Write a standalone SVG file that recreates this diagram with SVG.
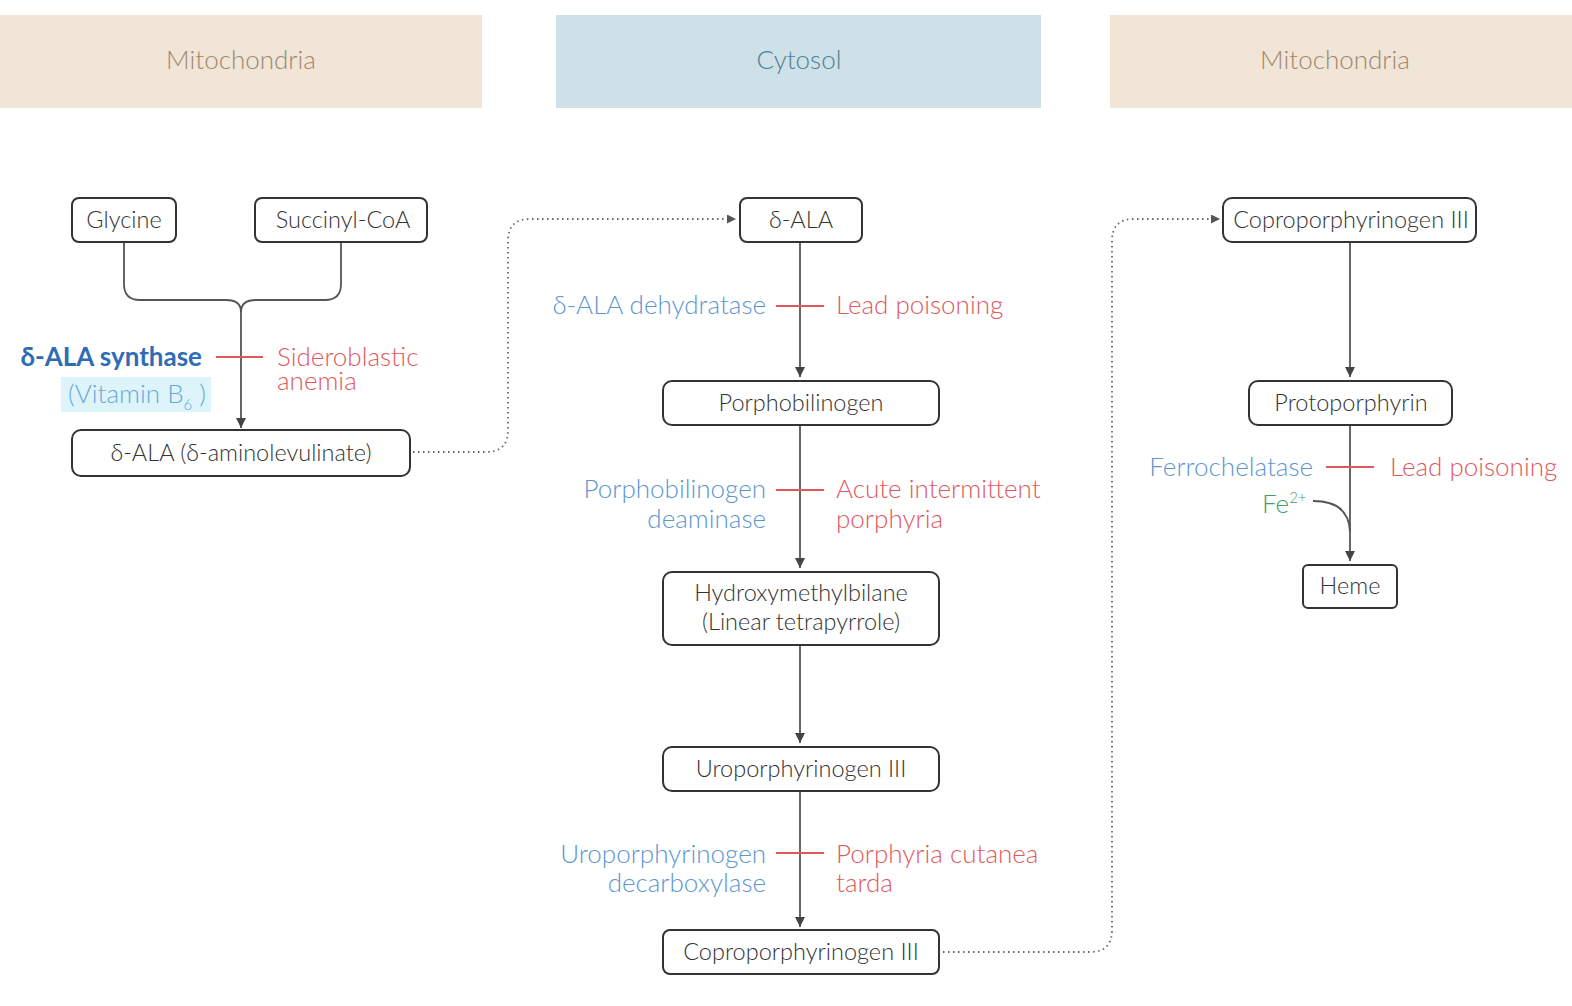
<svg xmlns="http://www.w3.org/2000/svg" width="1572" height="1006" viewBox="0 0 1572 1006">
<defs>
<marker id="arr" viewBox="0 0 10 10" refX="10" refY="5" markerWidth="10" markerHeight="11" markerUnits="userSpaceOnUse" orient="auto">
<path d="M0,0 L10,5 L0,10 z" fill="#444"/>
</marker>
<marker id="arrs" viewBox="0 0 10 10" refX="10" refY="5" markerWidth="11" markerHeight="9" markerUnits="userSpaceOnUse" orient="auto">
<path d="M0,0 L10,5 L0,10 z" fill="#555"/>
</marker>
</defs>
<style>
text{font-family:Lato,"Open Sans","Liberation Sans",sans-serif;font-size:26px;font-weight:300}
.hdr{font-size:26px;text-anchor:middle}
.node rect{fill:#fff;stroke:#333;stroke-width:2}
.node text{fill:#333;text-anchor:middle;font-size:23.5px}
.edge{fill:none;stroke:#555;stroke-width:1.8}
.dot{fill:none;stroke:#666;stroke-width:1.8;stroke-dasharray:1.5 3.5}
.bar{stroke:#e0585c;stroke-width:2}
.enz{fill:#5d96cf;text-anchor:end}
.dis{fill:#e0585c}
.bold{font-weight:bold;fill:#2e6db4;text-anchor:end}
</style>
<rect width="1572" height="1006" fill="#fff"/>
<g id="headers">
<rect x="0" y="15" width="482" height="93" fill="#f1e5d7"/>
<text class="hdr" x="241" y="69" fill="#9e876b">Mitochondria</text>
<rect x="556" y="15" width="485" height="93" fill="#cfe1e8"/>
<text class="hdr" x="799" y="69" fill="#4d7f93">Cytosol</text>
<rect x="1110" y="15" width="462" height="93" fill="#f1e5d7"/>
<text class="hdr" x="1335" y="69" fill="#9e876b">Mitochondria</text>
</g>
<g id="connectors">
<path class="edge" d="M124,242 V284 Q124,300 140,300 H226 Q241,300 241,312"/>
<path class="edge" d="M341,242 V284 Q341,300 325,300 H256 Q241,300 241,312"/>
<path class="edge" d="M241,312 V428" marker-end="url(#arr)"/>
<path class="dot" d="M413,452 H486 Q508,452 508,430 V241 Q508,219 530,219 H736" marker-end="url(#arrs)"/>
<path class="edge" d="M800,242 V377" marker-end="url(#arr)"/>
<path class="edge" d="M800,425 V568" marker-end="url(#arr)"/>
<path class="edge" d="M800,645 V743" marker-end="url(#arr)"/>
<path class="edge" d="M800,791 V927" marker-end="url(#arr)"/>
<path class="dot" d="M943,952 H1090 Q1112,952 1112,930 V241 Q1112,219 1134,219 H1220" marker-end="url(#arrs)"/>
<path class="edge" d="M1350,242 V377" marker-end="url(#arr)"/>
<path class="edge" d="M1350,425 V561" marker-end="url(#arr)"/>
<path class="edge" d="M1313,501 Q1349,501 1350,532"/>
<line class="bar" x1="216" y1="357" x2="263" y2="357"/>
<line class="bar" x1="776" y1="306" x2="824" y2="306"/>
<line class="bar" x1="776" y1="490" x2="824" y2="490"/>
<line class="bar" x1="776" y1="853" x2="824" y2="853"/>
<line class="bar" x1="1326" y1="467" x2="1374" y2="467"/>
</g>
<g id="glycine" class="node"><rect x="72" y="198" width="104" height="44" rx="7"/><text x="124" y="228">Glycine</text></g>
<g id="succinyl-coa" class="node"><rect x="255" y="198" width="172" height="44" rx="7"/><text x="343" y="228">Succinyl-CoA</text></g>
<g id="ala-full" class="node"><rect x="72" y="430" width="338" height="46" rx="9"/><text x="241" y="461">δ-ALA (δ-aminolevulinate)</text></g>
<g id="ala-mid" class="node"><rect x="740" y="198" width="122" height="44" rx="7"/><text x="801" y="228">δ-ALA</text></g>
<g id="porphobilinogen" class="node"><rect x="663" y="381" width="276" height="44" rx="9"/><text x="801" y="411">Porphobilinogen</text></g>
<g id="hydroxymethylbilane" class="node"><rect x="663" y="572" width="276" height="73" rx="9"/><text x="801" y="601">Hydroxymethylbilane</text><text x="801" y="630">(Linear tetrapyrrole)</text></g>
<g id="uroporphyrinogen" class="node"><rect x="663" y="747" width="276" height="44" rx="9"/><text x="801" y="777">Uroporphyrinogen III</text></g>
<g id="copro-mid" class="node"><rect x="663" y="930" width="276" height="44" rx="7"/><text x="801" y="960">Coproporphyrinogen III</text></g>
<g id="copro-right" class="node"><rect x="1223" y="198" width="253" height="44" rx="9"/><text x="1351" y="228">Coproporphyrinogen III</text></g>
<g id="protoporphyrin" class="node"><rect x="1249" y="381" width="203" height="44" rx="9"/><text x="1351" y="411">Protoporphyrin</text></g>
<g id="heme" class="node"><rect x="1303" y="565" width="94" height="43" rx="5"/><text x="1350" y="594">Heme</text></g>
<g id="labels">
<text class="bold" x="202" y="366">δ-ALA synthase</text>
<rect x="61" y="377" width="150" height="35" fill="#ddf4fa"/>
<text x="68" y="403" fill="#6aa9d8">(Vitamin B<tspan font-size="15" dy="7">6</tspan><tspan dy="-7"> )</tspan></text>
<text class="dis" x="277" y="366">Sideroblastic</text>
<text class="dis" x="277" y="390">anemia</text>
<text class="enz" x="766" y="314">δ-ALA dehydratase</text>
<text class="dis" x="836" y="314">Lead poisoning</text>
<text class="enz" x="766" y="498">Porphobilinogen</text>
<text class="enz" x="766" y="528">deaminase</text>
<text class="dis" x="836" y="498">Acute intermittent</text>
<text class="dis" x="836" y="528">porphyria</text>
<text class="enz" x="766" y="863">Uroporphyrinogen</text>
<text class="enz" x="766" y="892">decarboxylase</text>
<text class="dis" x="836" y="863">Porphyria cutanea</text>
<text class="dis" x="836" y="892">tarda</text>
<text class="enz" x="1313" y="476">Ferrochelatase</text>
<text class="dis" x="1390" y="476">Lead poisoning</text>
<text x="1262" y="513" fill="#3fa065">Fe<tspan font-size="15" dy="-10">2+</tspan></text>
</g>
</svg>
